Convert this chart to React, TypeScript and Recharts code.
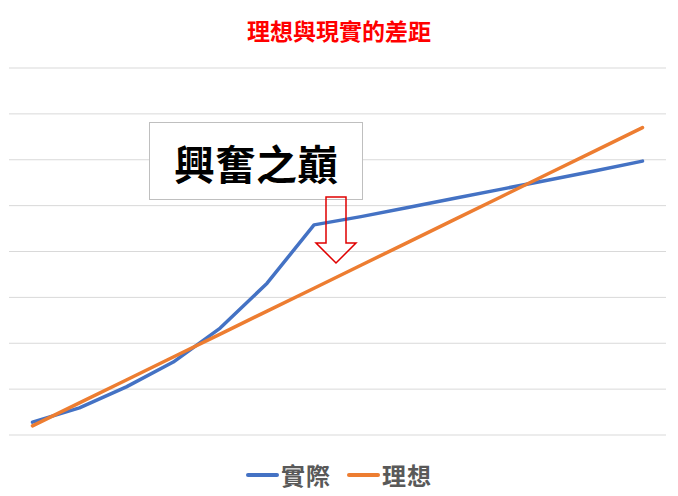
import { LineChart, Line, XAxis, YAxis, CartesianGrid } from "recharts";

// 14 periods, no visible x labels
const periods = ["1", "2", "3", "4", "5", "6", "7", "8", "9", "10", "11", "12", "13", "14"];
const actual = [2.8, 5.9, 10.5, 15.9, 23.3, 33.1, 45.8, 47.6, 49.6, 51.6, 53.6, 55.6, 57.6, 59.7];
const ideal = [2, 7, 12, 17, 22, 27, 32, 37, 42, 47, 52, 57, 62, 67];
const yTicks = [0, 10, 20, 30, 40, 50, 60, 70, 80];

const seriesNames = { actual: "實際", ideal: "理想" };
const colors = { actual: "#4472c4", ideal: "#ed7d31" };

const data = periods.map((p, i) => ({
  period: p,
  actual: actual[i],
  ideal: ideal[i],
}));

const FONT = '"Noto Sans CJK TC", "Noto Sans", sans-serif';

const CustomLegend = () => (
  <div
    style={{
      position: "absolute",
      top: 458,
      left: 0,
      width: 678,
      display: "flex",
      justifyContent: "center",
      alignItems: "center",
      fontFamily: FONT,
      fontWeight: 700,
      fontSize: 24,
      lineHeight: "34px",
      color: "#595959",
      gap: 16,
    }}
  >
    {(["actual", "ideal"] as const).map((key) => (
      <div key={key} style={{ display: "flex", alignItems: "center" }}>
        <span
          style={{
            display: "inline-block",
            width: 33,
            height: 4,
            borderRadius: 2,
            background: colors[key],
            marginRight: 2,
          }}
        />
        <span style={{ letterSpacing: 1 }}>{seriesNames[key]}</span>
      </div>
    ))}
  </div>
);

export default function App() {
  return (
    <div
      style={{
        position: "absolute",
        left: 0,
        top: 0,
        width: 678,
        height: 496,
        background: "#fff",
        fontFamily: FONT,
      }}
    >
      <div
        style={{
          position: "absolute",
          top: 15,
          width: 678,
          textAlign: "center",
          color: "#ff0000",
          fontWeight: 700,
          fontSize: 23,
          lineHeight: "30px",
        }}
      >
        理想與現實的差距
      </div>
      <LineChart
        width={678}
        height={496}
        data={data}
        margin={{ top: 68, right: 12, left: 9, bottom: 61 }}
      >
        <CartesianGrid vertical={false} stroke="#d9d9d9" strokeWidth={1} />
        <XAxis dataKey="period" hide padding={{ left: 23.5, right: 23.5 }} />
        <YAxis hide domain={[0, 80]} ticks={yTicks} />
        <Line
          dataKey="actual"
          name={seriesNames.actual}
          stroke={colors.actual}
          strokeWidth={3.5}
          dot={false}
          strokeLinecap="round"
          strokeLinejoin="round"
          isAnimationActive={false}
        />
        <Line
          dataKey="ideal"
          name={seriesNames.ideal}
          stroke={colors.ideal}
          strokeWidth={3.5}
          dot={false}
          strokeLinecap="round"
          strokeLinejoin="round"
          isAnimationActive={false}
        />
      </LineChart>
      <CustomLegend />
      <svg
        width={678}
        height={496}
        style={{ position: "absolute", left: 0, top: 0, pointerEvents: "none" }}
      >
        <rect x={149.5} y={122.5} width={213} height={77} fill="#fff" stroke="#bfbfbf" strokeWidth={1} />
        <text
          x={256}
          y={162}
          textAnchor="middle"
          dominantBaseline="central"
          fontFamily={FONT}
          fontWeight={700}
          fontSize={41}
          fill="#000"
        >
          興奮之巔
        </text>
        <path
          d="M326,197 L346,197 L346,243 L356,243 L336,263 L316,243 L326,243 Z"
          fill="none"
          stroke="#e00000"
          strokeWidth={1.5}
        />
      </svg>
    </div>
  );
}
